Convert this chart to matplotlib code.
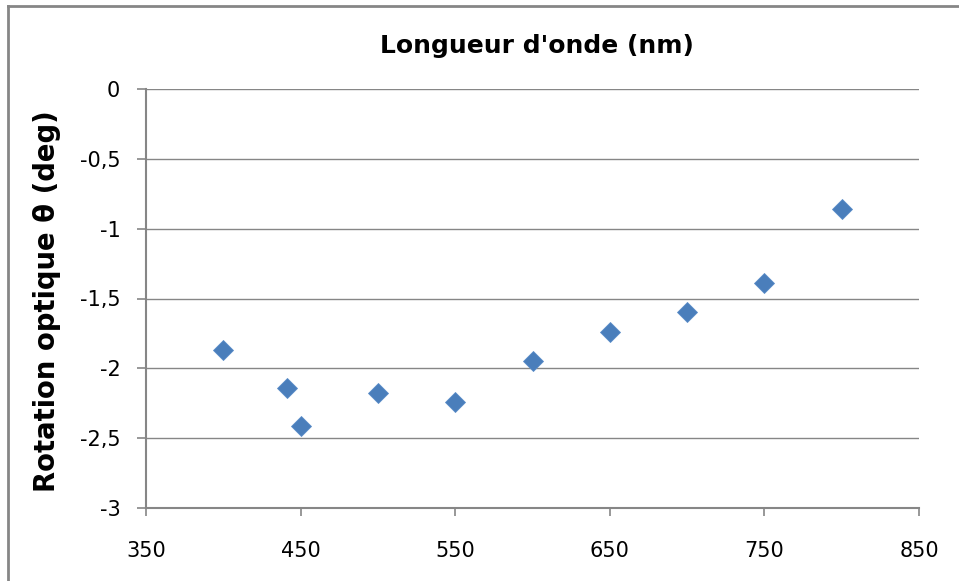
import matplotlib
matplotlib.use("Agg")
import matplotlib.pyplot as plt
from matplotlib.lines import Line2D
from matplotlib.ticker import FuncFormatter

# ---- values ----------------------------------------------------------------
WAVELENGTH = [400, 441, 450, 500, 550, 600, 650, 700, 750, 800]
ROTATION = [-1.87, -2.14, -2.41, -2.18, -2.24, -1.95, -1.74, -1.60, -1.39,
            -0.86]
X_TICKS = [350, 450, 550, 650, 750, 850]
Y_TICKS = [0, -0.5, -1, -1.5, -2, -2.5, -3]

GREY = "#868686"
BLUE = "#4a7ebb"

W, H = 959, 581
fig = plt.figure(figsize=(W / 100, H / 100), dpi=100)
ax = fig.add_axes([146 / W, 1 - 508 / H, (919 - 146) / W, (508 - 89) / H])

ax.plot(WAVELENGTH, ROTATION, "D", color=BLUE, ms=10, mec="#5a8cc8",
        mew=0.6, zorder=3, clip_on=False)

ax.set_xlim(350, 850)
ax.set_ylim(-3, 0)
ax.set_xticks(X_TICKS)
ax.set_yticks(Y_TICKS)
ax.yaxis.set_major_formatter(
    FuncFormatter(lambda v, _: f"{v:g}".replace(".", ",")))
ax.grid(axis="y", color=GREY, lw=1.0)
ax.set_axisbelow(True)
for s in ("top", "right"):
    ax.spines[s].set_visible(False)
for s in ("left", "bottom"):
    ax.spines[s].set_color(GREY)
    ax.spines[s].set_linewidth(1.5)
ax.tick_params(axis="y", direction="out", length=6.5, width=1.2, color=GREY,
               pad=12, labelsize=15)
ax.tick_params(axis="x", direction="out", length=6, width=1.2, color=GREY,
               pad=18, labelsize=15)

title_font = dict(fontweight="bold", family="DejaVu Sans")
fig.text(537 / W, 1 - 46 / H, "Longueur d'onde (nm)", ha="center",
         va="center", fontsize=18, **title_font)
fig.text(47 / W, 1 - 301 / H, "Rotation optique θ (deg)", ha="center",
         va="center", rotation=90, fontsize=19.8, **title_font)

# chart frame (only the top and left edges survive in the reference crop)
fig.add_artist(Line2D([8 / W, 8 / W], [0, 1 - 6 / H], color=GREY, lw=2,
                      transform=fig.transFigure))
fig.add_artist(Line2D([8 / W, 1], [1 - 6 / H, 1 - 6 / H], color=GREY, lw=2,
                      transform=fig.transFigure))

fig.savefig("out.png", dpi=100)
